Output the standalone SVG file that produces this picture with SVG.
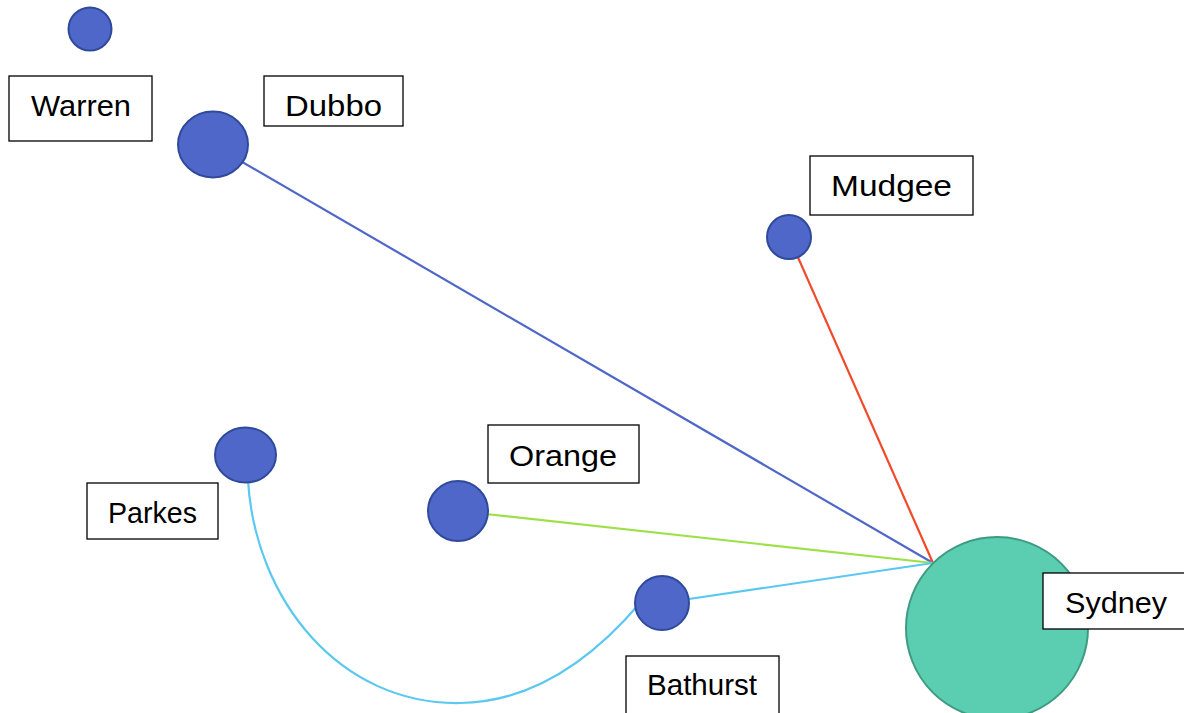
<svg xmlns="http://www.w3.org/2000/svg" width="1184" height="713" viewBox="0 0 1184 713">
<style>
.n{fill:#4F67C8;stroke:#2F4A9A;stroke-width:2}
.s{fill:#5BCDB0;stroke:#3E9A80;stroke-width:2}
.b{fill:#fff;stroke:#000;stroke-width:1.3}
.t{font-family:"Liberation Sans",Arial,sans-serif;font-size:29px;fill:#000;text-anchor:middle}
.e{fill:none;stroke-width:2.2}
</style>
<rect width="1184" height="713" fill="#fff"/>
<g id="connectors">
<line class="e" x1="213" y1="145" x2="933" y2="563" stroke="#4F67C8"/>
<line class="e" x1="789" y1="237" x2="933" y2="563" stroke="#F04A2A"/>
<line class="e" x1="458" y1="511" x2="933" y2="563" stroke="#9EE04A"/>
<line class="e" x1="662" y1="603" x2="933" y2="563" stroke="#5BC8F0"/>
<path class="e" d="M248 480 C255 600 340 705 460 703 C540 702 600 650 640 603" stroke="#5BC8F0"/>
</g>
<g id="warren"><circle class="n" cx="90" cy="29" r="21.5"/><rect class="b" x="9" y="76" width="143" height="65"/><text class="t" x="81" y="116" textLength="100" lengthAdjust="spacingAndGlyphs">Warren</text></g>
<g id="dubbo"><ellipse class="n" cx="213" cy="144.5" rx="35" ry="33"/><rect class="b" x="264" y="76" width="139" height="50"/><text class="t" x="333.5" y="116" textLength="97" lengthAdjust="spacingAndGlyphs">Dubbo</text></g>
<g id="mudgee"><circle class="n" cx="789" cy="237" r="22"/><rect class="b" x="810" y="156" width="163" height="59"/><text class="t" x="891.5" y="196" textLength="121" lengthAdjust="spacingAndGlyphs">Mudgee</text></g>
<g id="parkes"><ellipse class="n" cx="245.5" cy="455" rx="30.5" ry="27.5"/><rect class="b" x="87" y="483" width="131" height="56"/><text class="t" x="152.5" y="523" textLength="89" lengthAdjust="spacingAndGlyphs">Parkes</text></g>
<g id="orange"><circle class="n" cx="458" cy="511" r="30"/><rect class="b" x="488" y="425" width="151" height="58"/><text class="t" x="563" y="466" textLength="108" lengthAdjust="spacingAndGlyphs">Orange</text></g>
<g id="bathurst"><circle class="n" cx="662" cy="603" r="27"/><rect class="b" x="626" y="656" width="153" height="70"/><text class="t" x="702" y="695" textLength="110" lengthAdjust="spacingAndGlyphs">Bathurst</text></g>
<g id="sydney"><circle class="s" cx="997" cy="628" r="91"/><rect class="b" x="1043" y="573" width="150" height="56"/><text class="t" x="1116" y="613" textLength="102" lengthAdjust="spacingAndGlyphs">Sydney</text></g>
</svg>
